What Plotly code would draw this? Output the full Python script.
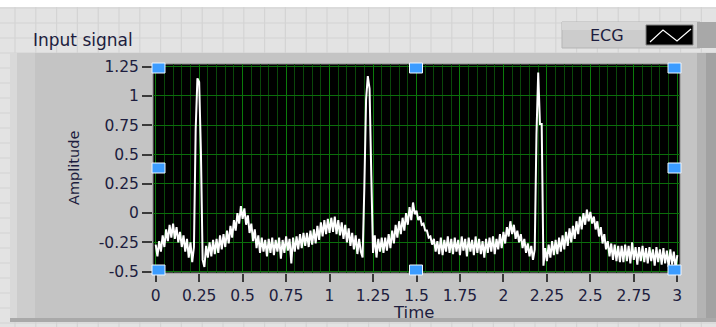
import numpy as np
import plotly.graph_objects as go

# ---- data -------------------------------------------------------------
sample_step_s = 0.01
ecg_amplitude = [
    -0.27, -0.37, -0.24, -0.33, -0.19, -0.29, -0.14, -0.24, -0.10, -0.21,
    -0.09, -0.22, -0.12, -0.25, -0.16, -0.29, -0.19, -0.33, -0.22, -0.38,
    -0.25, -0.42, -0.29, 0.72, 1.15, 1.12, 0.53, -0.40, -0.46, -0.28,
    -0.38, -0.25, -0.37, -0.23, -0.35, -0.22, -0.34, -0.19, -0.31, -0.18,
    -0.29, -0.15, -0.26, -0.11, -0.21, -0.06, -0.15, 0.00, -0.09, 0.06,
    -0.05, 0.04, -0.10, -0.02, -0.17, -0.09, -0.24, -0.14, -0.30, -0.19,
    -0.34, -0.21, -0.33, -0.23, -0.37, -0.22, -0.34, -0.21, -0.36, -0.23,
    -0.33, -0.21, -0.39, -0.23, -0.34, -0.20, -0.32, -0.22, -0.43, -0.21,
    -0.33, -0.20, -0.31, -0.18, -0.30, -0.17, -0.28, -0.17, -0.29, -0.15,
    -0.27, -0.14, -0.26, -0.11, -0.23, -0.08, -0.20, -0.06, -0.18, -0.05,
    -0.17, -0.04, -0.16, -0.03, -0.18, -0.06, -0.19, -0.08, -0.22, -0.10,
    -0.25, -0.13, -0.28, -0.17, -0.31, -0.19, -0.35, -0.22, -0.33, -0.38,
    0.22, 0.97, 1.17, 1.06, 0.32, -0.34, -0.19, -0.38, -0.22, -0.33,
    -0.21, -0.34, -0.21, -0.32, -0.18, -0.30, -0.15, -0.26, -0.10, -0.21,
    -0.07, -0.18, -0.04, -0.15, 0.00, -0.10, 0.05, -0.06, 0.09, -0.01,
    0.02, -0.06, -0.03, -0.10, -0.09, -0.15, -0.15, -0.21, -0.20, -0.27,
    -0.22, -0.33, -0.24, -0.35, -0.21, -0.36, -0.23, -0.33, -0.20, -0.34,
    -0.22, -0.35, -0.21, -0.33, -0.23, -0.36, -0.20, -0.32, -0.22, -0.37,
    -0.21, -0.33, -0.23, -0.36, -0.20, -0.34, -0.22, -0.35, -0.24, -0.38,
    -0.22, -0.34, -0.21, -0.33, -0.20, -0.35, -0.22, -0.31, -0.18, -0.30,
    -0.16, -0.26, -0.12, -0.20, -0.07, -0.18, -0.10, -0.22, -0.15, -0.25,
    -0.18, -0.30, -0.22, -0.34, -0.26, -0.37, -0.28, -0.40, -0.31, 0.67,
    1.20, 0.76, 0.76, -0.45, -0.30, -0.41, -0.27, -0.38, -0.24, -0.36,
    -0.23, -0.35, -0.21, -0.33, -0.19, -0.31, -0.16, -0.28, -0.13, -0.25,
    -0.11, -0.22, -0.07, -0.18, -0.03, -0.14, 0.00, -0.10, 0.03, -0.07,
    0.01, -0.09, -0.03, -0.14, -0.07, -0.20, -0.12, -0.26, -0.18, -0.31,
    -0.24, -0.37, -0.26, -0.40, -0.27, -0.41, -0.28, -0.42, -0.28, -0.42,
    -0.27, -0.41, -0.28, -0.43, -0.25, -0.40, -0.29, -0.44, -0.29, -0.41,
    -0.28, -0.42, -0.30, -0.43, -0.29, -0.41, -0.31, -0.45, -0.29, -0.42,
    -0.31, -0.44, -0.30, -0.43, -0.32, -0.46, -0.31, -0.44, -0.33, -0.47,
    -0.36,
]
time_s = np.round(np.arange(len(ecg_amplitude)) * sample_step_s, 2)

x_tick_vals = [0, 0.25, 0.5, 0.75, 1, 1.25, 1.5, 1.75, 2, 2.25, 2.5, 2.75, 3]
x_tick_text = ["0", "0.25", "0.5", "0.75", "1", "1.25", "1.5", "1.75",
               "2", "2.25", "2.5", "2.75", "3"]
y_tick_vals = [-0.5, -0.25, 0, 0.25, 0.5, 0.75, 1, 1.25]
y_tick_text = ["-0.5", "-0.25", "0", "0.25", "0.5", "0.75", "1", "1.25"]

# ---- geometry of the panel (pixels) ----------------------------------
W, H = 716, 327
PL, PR, PT, PB = 153, 680, 64, 273          # plot area edges
pw, ph = PR - PL, PB - PT


def fx(px):
    return (px - PL) / pw


def fy(py):
    return (PB - py) / ph


def rect(x0, y0, x1, y1, fill, line=None, lw=0, layer="below"):
    return dict(type="rect", xref="paper", yref="paper",
                x0=fx(x0), x1=fx(x1), y0=fy(y1), y1=fy(y0),
                fillcolor=fill, layer=layer,
                line=dict(color=line or fill, width=lw))


def hline(py, x0, x1, color, w=1):
    return dict(type="line", xref="paper", yref="paper", layer="below",
                x0=fx(x0), x1=fx(x1), y0=fy(py), y1=fy(py),
                line=dict(color=color, width=w))


def vline(px, y0, y1, color, w=1):
    return dict(type="line", xref="paper", yref="paper", layer="below",
                x0=fx(px), x1=fx(px), y0=fy(y0), y1=fy(y1),
                line=dict(color=color, width=w))


shapes = []
# front-panel background with its alignment grid
shapes.append(rect(0, 7, W, H, "#e3e3e3"))
gx = 15.0
while gx < W:
    shapes.append(vline(gx, 7, H, "#d4d4d4", 1.2))
    gx += 20.8
gy = 8.0
while gy < H:
    shapes.append(hline(gy, 0, W, "#d4d4d4", 1.2))
    gy += 15.0

# graph frame
shapes.append(rect(10, 53, 716, 322, "#c4c4c4"))
shapes.append(rect(10, 53, 17, 322, "#d9d9d9"))
shapes.append(rect(17, 53, 35, 322, "#cdcdcd"))
shapes.append(rect(697, 53, 706, 322, "#b3b3b3"))
shapes.append(rect(706, 53, 716, 322, "#a2a2a2"))
shapes.append(rect(10, 318, 716, 322, "#a9a9a9"))
# plot background
shapes.append(rect(PL, PT, PR, PB, "#000000", "#8a8a8a", 1))

# plot legend box
shapes.append(rect(562, 22, 700, 48, "#cccccc", "#b5b5b5", 1, "above"))
shapes.append(rect(562, 22, 700, 30, "#d6d6d6", layer="above"))
shapes.append(rect(697, 22, 716, 48, "#a8a8a8", layer="above"))
shapes.append(rect(646, 25, 693, 45, "#000000", "#808080", 1, "above"))
zig = [(650, 42), (663, 30), (677, 41), (691, 29)]
path = "M " + " L ".join(f"{fx(a):.5f},{fy(b):.5f}" for a, b in zig)
shapes.append(dict(type="path", xref="paper", yref="paper", layer="above",
                   path=path, line=dict(color="white", width=1.2)))

# selection handles around the plot area
for hx in (158.5, 416, 674.5):
    for hy in (68, 168, 270):
        if hx == 416 and hy == 168:
            continue
        shapes.append(rect(hx - 6.5, hy - 5, hx + 6.5, hy + 5,
                           "#3b9cff", "#eef6ff", 1, "above"))

font_family = "DejaVu Sans"
text_color = "#1d1d3e"

fig = go.Figure()
fig.add_trace(go.Scatter(
    x=time_s, y=ecg_amplitude, mode="lines",
    line=dict(color="white", width=2),
    showlegend=False, hoverinfo="skip",
))

fig.update_layout(
    width=W, height=H,
    margin=dict(l=PL, r=W - PR, t=PT, b=H - PB, pad=0),
    paper_bgcolor="#ffffff",
    plot_bgcolor="#000000",
    shapes=shapes,
    font=dict(family=font_family, size=15, color=text_color),
    annotations=[
        dict(text="Input signal", xref="paper", yref="paper",
             x=fx(31), y=fy(40), xanchor="left", yanchor="middle",
             showarrow=False, font=dict(size=17, color=text_color)),
        dict(text="ECG", xref="paper", yref="paper",
             x=fx(607), y=fy(35), xanchor="center", yanchor="middle",
             showarrow=False, font=dict(size=16, color=text_color)),
        dict(text="Amplitude", xref="paper", yref="paper",
             x=fx(74), y=fy(168), xanchor="center", yanchor="middle",
             textangle=-90, showarrow=False,
             font=dict(size=14.5, color=text_color)),
        dict(text="Time", xref="paper", yref="paper",
             x=fx(413), y=fy(312), xanchor="center", yanchor="middle",
             showarrow=False, font=dict(size=16.5, color=text_color)),
    ],
)

fig.update_xaxes(
    range=[-0.0155, 3.0155],
    tickmode="array", tickvals=x_tick_vals, ticktext=x_tick_text,
    ticks="outside", ticklen=8, tickwidth=2, tickcolor="#3a3a3a",
    showgrid=True, gridcolor="#0b7a0b", gridwidth=1,
    minor=dict(tick0=0, dtick=0.05, showgrid=True,
               gridcolor="#0a470a", gridwidth=1, ticks=""),
    zeroline=False, showline=False,
    tickfont=dict(family=font_family, size=15.5, color=text_color),
)
fig.update_yaxes(
    range=[-0.512, 1.273],
    tickmode="array", tickvals=y_tick_vals, ticktext=y_tick_text,
    ticks="outside", ticklen=10, tickwidth=2, tickcolor="#3a3a3a",
    showgrid=True, gridcolor="#0b6e0b", gridwidth=1,
    zeroline=False, showline=False,
    tickfont=dict(family=font_family, size=15.5, color=text_color),
)

fig.write_html("out.html")
